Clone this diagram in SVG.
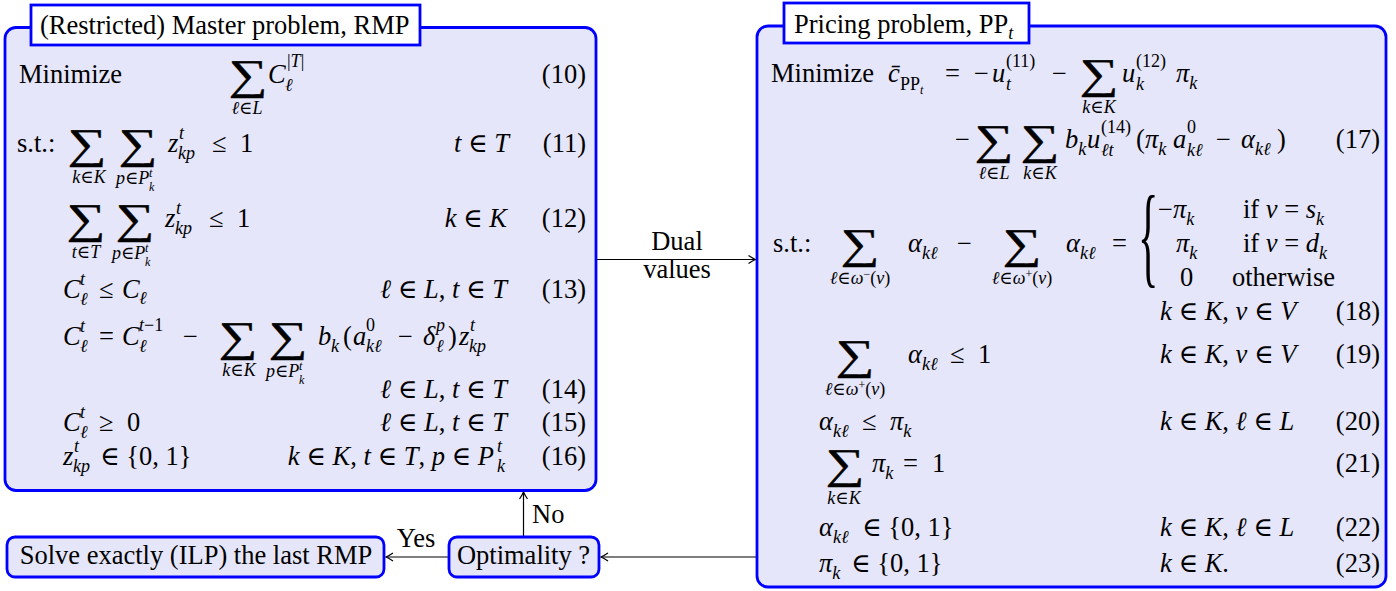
<svg xmlns="http://www.w3.org/2000/svg" width="1396" height="591" viewBox="0 0 1396 591" font-family="'Liberation Serif', 'DejaVu Serif', serif">
<defs>
<style>
text{font-size:26.5px;fill:#000}
.i{font-style:italic}
.s{font-size:18px}
.ss{font-size:12px}
.m{text-anchor:middle}
.e{text-anchor:end}
.sum{font-size:42px;text-anchor:middle;stroke:#000;stroke-width:0.4}
.box{fill:#e6e6fa;stroke:#0000ff;stroke-width:2.8}
.tb{fill:#ffffff;stroke:#0000ff;stroke-width:2.8}
.c{stroke:#000;stroke-width:1.2;fill:none}
</style>
<marker id="ah" markerUnits="userSpaceOnUse" markerWidth="12" markerHeight="12" viewBox="-9 -6 10 12" refX="0" refY="0" orient="auto">
<path d="M -7 -4 Q -2.5 -1 0 0 Q -2.5 1 -7 4" stroke="#000" stroke-width="1.2" fill="none"/>
</marker>
</defs>

<g id="connectors">
<line class="c" x1="596" y1="259.5" x2="755.5" y2="259.5" marker-end="url(#ah)"/>
<line class="c" x1="757" y1="557" x2="601" y2="557" marker-end="url(#ah)"/>
<line class="c" x1="449" y1="557" x2="386" y2="557" marker-end="url(#ah)"/>
<line class="c" x1="523.5" y1="537" x2="523.5" y2="492" marker-end="url(#ah)"/>
<text class="m" x="677" y="250">Dual</text>
<text class="m" x="677" y="278">values</text>
<text class="m" x="416" y="547">Yes</text>
<text x="532" y="523">No</text>
</g>

<g id="rmp">
<rect class="box" x="5" y="27.5" width="591" height="463" rx="11"/>
<rect class="tb" x="31" y="5" width="389" height="40"/>
<text x="40" y="34">(Restricted) Master problem, RMP</text>
<!-- (10) -->
<text x="19" y="83">Minimize</text>
<text class="sum" transform="translate(248,89) scale(1.3,1)">∑</text>
<text class="s m" x="247" y="114"><tspan class="i">ℓ</tspan>∈<tspan class="i">L</tspan></text>
<text class="i" x="268" y="83">C</text>
<text class="s" x="287" y="67">|<tspan class="i">T</tspan>|</text>
<text class="s i" x="285" y="91">ℓ</text>
<text class="e" x="586" y="83">(10)</text>
<!-- (11) -->
<text x="17" y="152">s.t.:</text>
<text class="sum" transform="translate(87,158) scale(1.3,1)">∑</text>
<text class="sum" transform="translate(138,158) scale(1.3,1)">∑</text>
<text class="s m" x="89" y="183"><tspan class="i">k</tspan>∈<tspan class="i">K</tspan></text>
<text class="s" x="116" y="184"><tspan class="i">p</tspan>∈<tspan class="i">P</tspan></text>
<text class="ss i" x="149" y="177">t</text>
<text class="ss i" x="149" y="191">k</text>
<text class="i" x="168" y="152">z</text>
<text class="s i" x="179" y="139">t</text>
<text class="s i" x="178" y="159">kp</text>
<text x="212" y="152">≤</text>
<text x="240" y="152">1</text>
<text class="e" x="509" y="152"><tspan class="i">t</tspan> ∈ <tspan class="i">T</tspan></text>
<text class="e" x="586" y="152">(11)</text>
<!-- (12) -->
<text class="sum" transform="translate(86,233) scale(1.3,1)">∑</text>
<text class="sum" transform="translate(135,233) scale(1.3,1)">∑</text>
<text class="s m" x="86" y="258"><tspan class="i">t</tspan>∈<tspan class="i">T</tspan></text>
<text class="s" x="112" y="259"><tspan class="i">p</tspan>∈<tspan class="i">P</tspan></text>
<text class="ss i" x="145" y="252">t</text>
<text class="ss i" x="145" y="266">k</text>
<text class="i" x="165" y="227">z</text>
<text class="s i" x="176" y="214">t</text>
<text class="s i" x="175" y="234">kp</text>
<text x="209" y="227">≤</text>
<text x="237" y="227">1</text>
<text class="e" x="507" y="227"><tspan class="i">k</tspan> ∈ <tspan class="i">K</tspan></text>
<text class="e" x="586" y="227">(12)</text>
<!-- (13) -->
<text class="i" x="63" y="298">C</text>
<text class="s i" x="80" y="285">t</text>
<text class="s i" x="80" y="305">ℓ</text>
<text x="99" y="298">≤</text>
<text class="i" x="122" y="298">C</text>
<text class="s i" x="139" y="304">ℓ</text>
<text class="e" x="507" y="298"><tspan class="i">ℓ</tspan> ∈ <tspan class="i">L</tspan>, <tspan class="i">t</tspan> ∈ <tspan class="i">T</tspan></text>
<text class="e" x="586" y="298">(13)</text>
<!-- (14) -->
<text class="i" x="63" y="345">C</text>
<text class="s i" x="80" y="332">t</text>
<text class="s i" x="80" y="352">ℓ</text>
<text x="99" y="345">=</text>
<text class="i" x="122" y="345">C</text>
<text class="s" x="139" y="331"><tspan class="i">t</tspan>−1</text>
<text class="s i" x="139" y="352">ℓ</text>
<text x="183" y="345">−</text>
<text class="sum" transform="translate(238,351) scale(1.3,1)">∑</text>
<text class="sum" transform="translate(288,351) scale(1.3,1)">∑</text>
<text class="s m" x="239" y="376"><tspan class="i">k</tspan>∈<tspan class="i">K</tspan></text>
<text class="s" x="266" y="377"><tspan class="i">p</tspan>∈<tspan class="i">P</tspan></text>
<text class="ss i" x="299" y="370">t</text>
<text class="ss i" x="299" y="384">k</text>
<text class="i" x="318" y="345">b</text>
<text class="s i" x="331" y="352">k</text>
<text x="343" y="345">(</text>
<text class="i" x="353" y="345">a</text>
<text class="s" x="366" y="331">0</text>
<text class="s i" x="366" y="352">kℓ</text>
<text x="398" y="345">−</text>
<text class="i" x="423" y="345">δ</text>
<text class="s i" x="436" y="331">p</text>
<text class="s i" x="436" y="352">ℓ</text>
<text x="448" y="345">)</text>
<text class="i" x="459" y="345">z</text>
<text class="s i" x="470" y="331">t</text>
<text class="s i" x="469" y="352">kp</text>
<text class="e" x="507" y="398"><tspan class="i">ℓ</tspan> ∈ <tspan class="i">L</tspan>, <tspan class="i">t</tspan> ∈ <tspan class="i">T</tspan></text>
<text class="e" x="586" y="398">(14)</text>
<!-- (15) -->
<text class="i" x="63" y="431">C</text>
<text class="s i" x="80" y="418">t</text>
<text class="s i" x="80" y="438">ℓ</text>
<text x="99" y="431">≥</text>
<text x="127" y="431">0</text>
<text class="e" x="507" y="431"><tspan class="i">ℓ</tspan> ∈ <tspan class="i">L</tspan>, <tspan class="i">t</tspan> ∈ <tspan class="i">T</tspan></text>
<text class="e" x="586" y="431">(15)</text>
<!-- (16) -->
<text class="i" x="63" y="465">z</text>
<text class="s i" x="74" y="452">t</text>
<text class="s i" x="73" y="472">kp</text>
<text x="100" y="465">∈ {0, 1}</text>
<text class="e" x="494" y="465"><tspan class="i">k</tspan> ∈ <tspan class="i">K</tspan>, <tspan class="i">t</tspan> ∈ <tspan class="i">T</tspan>, <tspan class="i">p</tspan> ∈ <tspan class="i">P</tspan></text>
<text class="s i" x="497" y="452">t</text>
<text class="s i" x="497" y="472">k</text>
<text class="e" x="586" y="465">(16)</text>
</g>

<g id="pp">
<rect class="box" x="757" y="26" width="629" height="561" rx="11"/>
<rect class="tb" x="784" y="3" width="245" height="40"/>
<text x="794" y="33">Pricing problem, PP<tspan class="s i" dy="6">t</tspan></text>
<!-- (17) -->
<text x="771" y="82">Minimize</text>
<text class="i" x="888" y="82">c̄</text>
<text class="s" x="900" y="90">PP<tspan class="ss i" dy="4">t</tspan></text>
<text x="945" y="82">=</text>
<text x="974" y="82">−</text>
<text class="i" x="992" y="82">u</text>
<text class="s" x="1006" y="67">(11)</text>
<text class="s i" x="1006" y="90">t</text>
<text x="1052" y="82">−</text>
<text class="sum" transform="translate(1099,88) scale(1.3,1)">∑</text>
<text class="s m" x="1099" y="113"><tspan class="i">k</tspan>∈<tspan class="i">K</tspan></text>
<text class="i" x="1122" y="82">u</text>
<text class="s" x="1136" y="67">(12)</text>
<text class="s i" x="1136" y="90">k</text>
<text class="i" x="1176" y="82">π<tspan class="s" dy="7">k</tspan></text>
<text x="955" y="148">−</text>
<text class="sum" transform="translate(994,154) scale(1.3,1)">∑</text>
<text class="sum" transform="translate(1040,154) scale(1.3,1)">∑</text>
<text class="s m" x="994" y="179"><tspan class="i">ℓ</tspan>∈<tspan class="i">L</tspan></text>
<text class="s m" x="1040" y="179"><tspan class="i">k</tspan>∈<tspan class="i">K</tspan></text>
<text class="i" x="1065" y="148">b<tspan class="s" dy="7">k</tspan></text>
<text class="i" x="1087" y="148">u</text>
<text class="s" x="1101" y="133">(14)</text>
<text class="s i" x="1101" y="156">ℓt</text>
<text x="1136" y="148">(</text>
<text class="i" x="1145" y="148">π<tspan class="s" dy="7">k</tspan></text>
<text class="i" x="1173" y="148">a</text>
<text class="s" x="1187" y="133">0</text>
<text class="s i" x="1187" y="156">kℓ</text>
<text x="1216" y="148">−</text>
<text class="i" x="1241" y="148">α<tspan class="s" dy="7">kℓ</tspan></text>
<text x="1277" y="148">)</text>
<text class="e" x="1380" y="148">(17)</text>
<!-- (18) -->
<text x="773" y="252">s.t.:</text>
<text class="sum" transform="translate(860,258) scale(1.3,1)">∑</text>
<text class="s m" x="860" y="284"><tspan class="i">ℓ</tspan>∈<tspan class="i">ω</tspan><tspan class="ss" dy="-6">−</tspan><tspan dy="6">(</tspan><tspan class="i">v</tspan>)</text>
<text class="i" x="908" y="252">α<tspan class="s" dy="7">kℓ</tspan></text>
<text x="957" y="252">−</text>
<text class="sum" transform="translate(1022,258) scale(1.3,1)">∑</text>
<text class="s m" x="1022" y="284"><tspan class="i">ℓ</tspan>∈<tspan class="i">ω</tspan><tspan class="ss" dy="-6">+</tspan><tspan dy="6">(</tspan><tspan class="i">v</tspan>)</text>
<text class="i" x="1066" y="252">α<tspan class="s" dy="7">kℓ</tspan></text>
<text x="1112" y="252">=</text>
<text transform="translate(1138,273) scale(0.38,1)" x="0" y="0" style="font-size:112px">{</text>
<text x="1158" y="218">−<tspan class="i">π</tspan><tspan class="s i" dy="7">k</tspan></text>
<text x="1243" y="218">if <tspan class="i">v</tspan> = <tspan class="i">s</tspan><tspan class="s i" dy="7">k</tspan></text>
<text class="i" x="1176" y="252">π<tspan class="s" dy="7">k</tspan></text>
<text x="1243" y="252">if <tspan class="i">v</tspan> = <tspan class="i">d</tspan><tspan class="s i" dy="7">k</tspan></text>
<text x="1180" y="286">0</text>
<text x="1232" y="286">otherwise</text>
<text x="1160" y="320"><tspan class="i">k</tspan> ∈ <tspan class="i">K</tspan>, <tspan class="i">v</tspan> ∈ <tspan class="i">V</tspan></text>
<text class="e" x="1380" y="320">(18)</text>
<!-- (19) -->
<text class="sum" transform="translate(855,369) scale(1.3,1)">∑</text>
<text class="s m" x="855" y="395"><tspan class="i">ℓ</tspan>∈<tspan class="i">ω</tspan><tspan class="ss" dy="-6">+</tspan><tspan dy="6">(</tspan><tspan class="i">v</tspan>)</text>
<text class="i" x="908" y="363">α<tspan class="s" dy="7">kℓ</tspan></text>
<text x="950" y="363">≤</text>
<text x="978" y="363">1</text>
<text x="1160" y="363"><tspan class="i">k</tspan> ∈ <tspan class="i">K</tspan>, <tspan class="i">v</tspan> ∈ <tspan class="i">V</tspan></text>
<text class="e" x="1380" y="363">(19)</text>
<!-- (20) -->
<text class="i" x="819" y="430">α<tspan class="s" dy="7">kℓ</tspan></text>
<text x="862" y="430">≤</text>
<text class="i" x="890" y="430">π<tspan class="s" dy="7">k</tspan></text>
<text x="1160" y="430"><tspan class="i">k</tspan> ∈ <tspan class="i">K</tspan>, <tspan class="i">ℓ</tspan> ∈ <tspan class="i">L</tspan></text>
<text class="e" x="1380" y="430">(20)</text>
<!-- (21) -->
<text class="sum" transform="translate(845,478) scale(1.3,1)">∑</text>
<text class="s m" x="844" y="504"><tspan class="i">k</tspan>∈<tspan class="i">K</tspan></text>
<text class="i" x="872" y="472">π<tspan class="s" dy="7">k</tspan></text>
<text x="903" y="472">=</text>
<text x="932" y="472">1</text>
<text class="e" x="1380" y="472">(21)</text>
<!-- (22) -->
<text class="i" x="819" y="536">α<tspan class="s" dy="7">kℓ</tspan></text>
<text x="862" y="536">∈ {0, 1}</text>
<text x="1160" y="536"><tspan class="i">k</tspan> ∈ <tspan class="i">K</tspan>, <tspan class="i">ℓ</tspan> ∈ <tspan class="i">L</tspan></text>
<text class="e" x="1380" y="536">(22)</text>
<!-- (23) -->
<text class="i" x="819" y="572">π<tspan class="s" dy="7">k</tspan></text>
<text x="851" y="572">∈ {0, 1}</text>
<text x="1160" y="572"><tspan class="i">k</tspan> ∈ <tspan class="i">K</tspan>.</text>
<text class="e" x="1380" y="572">(23)</text>
</g>

<g id="solve">
<rect class="box" x="7" y="537" width="377" height="40" rx="8"/>
<text class="m" x="196" y="564">Solve exactly (ILP) the last RMP</text>
</g>
<g id="opt">
<rect class="box" x="449" y="537" width="150" height="40" rx="8"/>
<text class="m" x="523.5" y="564">Optimality ?</text>
</g>
</svg>
